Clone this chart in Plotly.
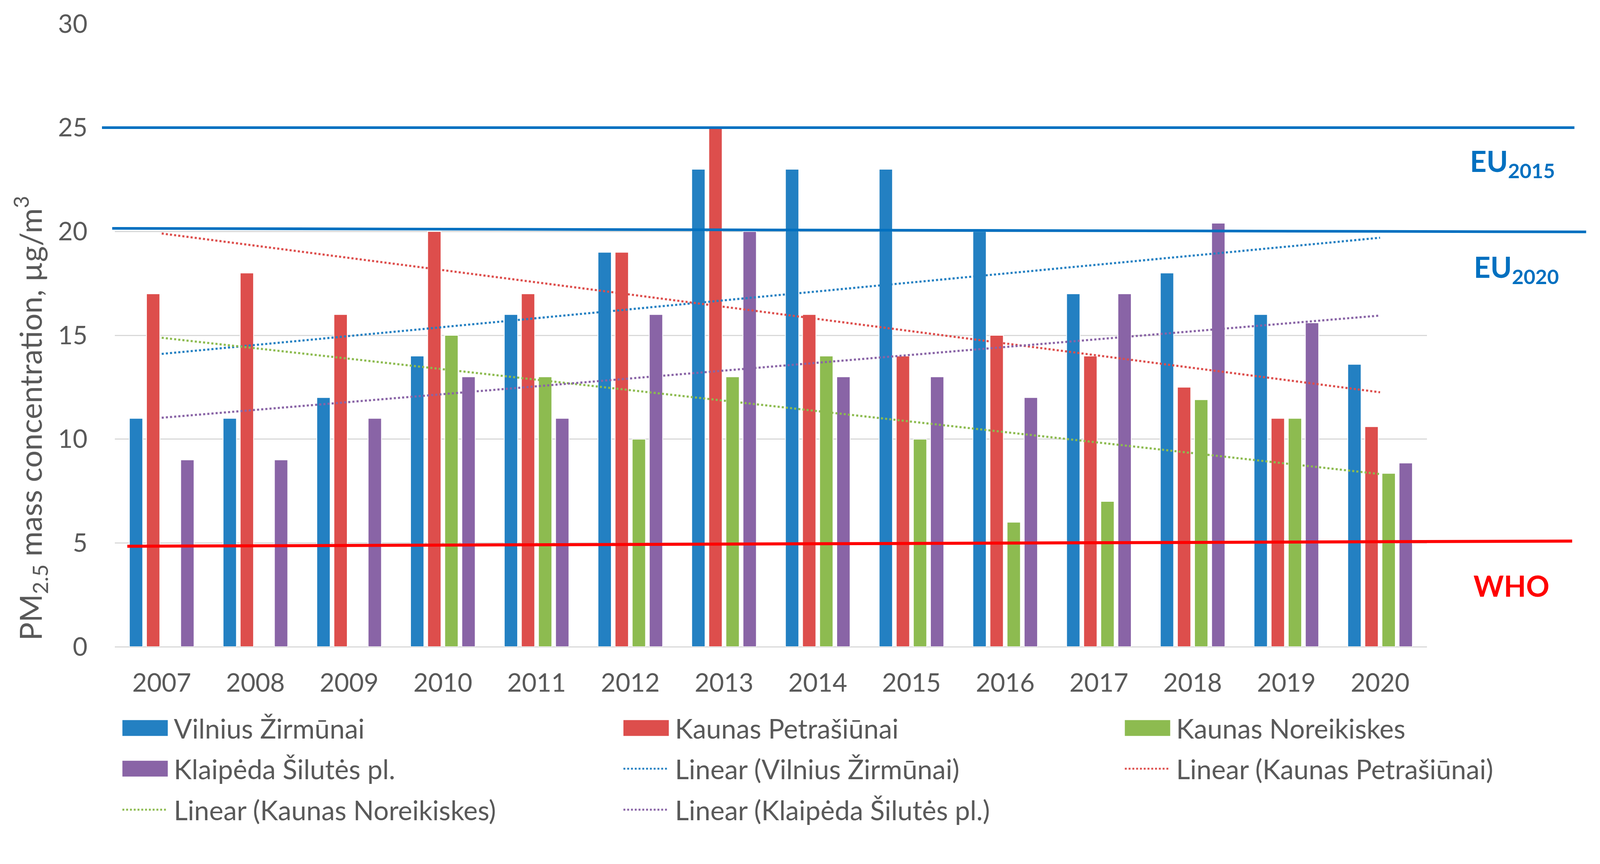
import numpy as np
import plotly.graph_objects as go

# ---------------- data ----------------
years = ["2007", "2008", "2009", "2010", "2011", "2012", "2013",
         "2014", "2015", "2016", "2017", "2018", "2019", "2020"]
vilnius_zirmunai = [11, 11, 12, 14, 16, 19, 23, 23, 23, 20, 17, 18, 16, 13.6]
kaunas_petrasiunai = [17, 18, 16, 20, 17, 19, 25, 16, 14, 15, 14, 12.5, 11, 10.6]
kaunas_noreikiskes = [None, None, None, 15, 13, 10, 13, 14, 10, 6, 7, 11.9, 11, 8.35]
klaipeda_silutes = [9, 9, 11, 13, 11, 16, 20, 13, 13, 12, 17, 20.4, 15.6, 8.85]

series_names = ["Vilnius Žirmūnai", "Kaunas Petrašiūnai",
                "Kaunas Noreikiskes", "Klaipėda Šilutės pl."]
series_values = [vilnius_zirmunai, kaunas_petrasiunai,
                 kaunas_noreikiskes, klaipeda_silutes]
series_colors = ["#2380C2", "#DD4E4C", "#8DBB50", "#8964A6"]

# limit values (start, end as drawn)
limit_names = ["EU<sub>2015</sub>", "EU<sub>2020</sub>", "WHO"]
limit_start = [25, 20.15, 4.84]
limit_end = [25, 19.98, 5.09]
limit_colors = ["#0070C0", "#0070C0", "#FF0000"]

# ---------------- layout geometry (reference pixels, scaled by K) ----------------
K = 0.968          # CSS px per reference px
OFF = 8            # body margin of the page
REF_L, REF_T, REF_PW, REF_PH = 304, 55, 3470, 1655

W = round(4226 * K - OFF)
H = round(2211 * K - OFF)
L = REF_L * K - OFF
T = REF_T * K - OFF
R = W - L - REF_PW * K
B = H - T - REF_PH * K


def s(v):
    return v * K


def px(xp):
    return (xp - REF_L) / REF_PW


def py(yp):
    return (REF_T + REF_PH - yp) / REF_PH


FONT = "Lato"
GREY = "#595959"

fig = go.Figure()

for name, vals, col in zip(series_names, series_values, series_colors):
    fig.add_trace(go.Bar(
        x=years, y=vals, name=name, marker_color=col,
        marker_line=dict(color="white", width=s(2)), showlegend=False,
    ))

# linear trend lines (least squares over category index, as in Excel)
idx = np.arange(1, len(years) + 1)
for name, vals, col in zip(series_names, series_values, series_colors):
    xs = np.array([i for i, v in zip(idx, vals) if v is not None], float)
    ys = np.array([v for v in vals if v is not None], float)
    k, b = np.polyfit(xs, ys, 1)
    fig.add_trace(go.Scatter(
        x=[years[0], years[-1]], y=[k * idx[0] + b, k * idx[-1] + b],
        mode="lines", line=dict(color=col, width=s(5.5), dash="dot"),
        name="Linear (" + name + ")", showlegend=False,
    ))

# limit lines
line_x = [(270, 4164), (297, 4195), (337, 4158)]
line_w = [7, 7, 8]
for (x0, x1), y0, y1, c, w in zip(line_x, limit_start, limit_end, limit_colors, line_w):
    fig.add_shape(type="line", xref="paper", yref="y", x0=px(x0), x1=px(x1),
                  y0=y0, y1=y1, line=dict(color=c, width=s(w)), layer="above")

# limit labels
label_pos = [(3886, 23.3), (3896, 18.2), (3895, 2.94)]
for (xl, yl), txt, c in zip(label_pos, limit_names, limit_colors):
    fig.add_annotation(xref="paper", yref="y", x=px(xl), y=yl, text="<b>" + txt + "</b>",
                       showarrow=False, xanchor="left", yanchor="middle",
                       font=dict(family=FONT, size=round(s(76)), color=c))

# y-axis title
fig.add_annotation(xref="paper", yref="paper", x=px(80), y=py(1103),
                   text="PM<sub>2.5</sub> mass concentration, µg/m<sup>3</sup>",
                   textangle=-90, showarrow=False, xanchor="center", yanchor="middle",
                   font=dict(family=FONT, size=round(s(81)), color=GREY))

# custom legend (3 columns, row-major)
legend_names = series_names + ["Linear (" + n + ")" for n in series_names]
legend_colors = series_colors + series_colors
legend_kinds = ["bar"] * 4 + ["trend"] * 4
col_x = [324, 1649, 2975]
row_y = [1926, 2034, 2143]
for i, (nm, c, kind) in enumerate(zip(legend_names, legend_colors, legend_kinds)):
    cx = col_x[i % 3]
    ry = row_y[i // 3]
    if kind == "bar":
        fig.add_shape(type="rect", xref="paper", yref="paper",
                      x0=px(cx), x1=px(cx + 120), y0=py(ry + 21), y1=py(ry - 21),
                      fillcolor=c, line=dict(width=0))
    else:
        fig.add_shape(type="line", xref="paper", yref="paper",
                      x0=px(cx), x1=px(cx + 116), y0=py(ry), y1=py(ry),
                      line=dict(color=c, width=s(5), dash="dot"))
    fig.add_annotation(xref="paper", yref="paper", x=px(cx + 134), y=py(ry),
                       text=nm, showarrow=False, xanchor="left", yanchor="middle",
                       font=dict(family=FONT, size=round(s(71)), color=GREY))

fig.update_layout(
    width=W, height=H,
    margin=dict(l=L, r=R, t=T, b=B, pad=0),
    paper_bgcolor="white", plot_bgcolor="white",
    barmode="group", bargap=0.27, bargroupgap=0.22,
    font=dict(family=FONT, size=round(s(67)), color=GREY),
    showlegend=False,
)
fig.update_xaxes(type="category", showgrid=False, showline=False, ticks="",
                 ticklabelstandoff=round(s(51)),
                 tickfont=dict(family=FONT, size=round(s(67)), color=GREY))
fig.update_yaxes(range=[0, 30], dtick=5, showgrid=True, gridcolor="#D9D9D9", gridwidth=s(3),
                 zeroline=True, zerolinecolor="#D9D9D9", zerolinewidth=s(3),
                 showline=False, ticks="", ticklabelstandoff=round(s(71)),
                 tickfont=dict(family=FONT, size=round(s(67)), color=GREY))

fig.write_html("out.html")
